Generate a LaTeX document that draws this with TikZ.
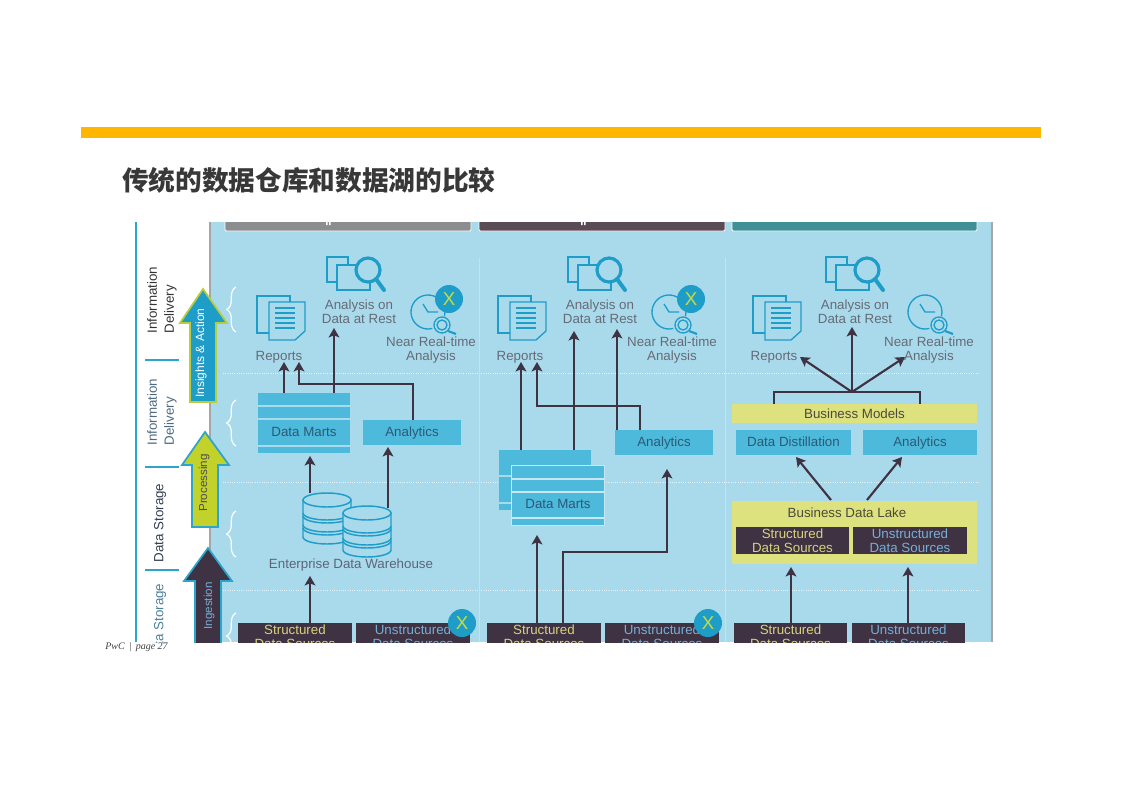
\documentclass[tikz,border=0pt]{standalone}
\usepackage{fontspec}
\setmainfont{Liberation Sans}
\newfontfamily\cjk{Noto Sans CJK SC}
\newfontfamily\footfont{Liberation Serif}
\usetikzlibrary{arrows.meta, decorations.pathreplacing}

\definecolor{panelblue}{HTML}{A9DAEC}
\definecolor{barblue}{HTML}{4DB9DB}
\definecolor{bartext}{HTML}{2B5A78}
\definecolor{iconblue}{HTML}{1F9DC9}
\definecolor{axisblue}{HTML}{2AA5CB}
\definecolor{darkplum}{HTML}{3F3243}
\definecolor{lakeyellow}{HTML}{DDE27E}
\definecolor{laketext}{HTML}{4C4A3C}
\definecolor{labelgrey}{HTML}{666B76}
\definecolor{softyellow}{HTML}{D9D37C}
\definecolor{softblue}{HTML}{74B0D8}
\definecolor{limegreen}{HTML}{C3D22B}
\definecolor{limeedge}{HTML}{B7CD3C}
\definecolor{crossgreen}{HTML}{C6DC3E}

\tikzset{
>={Stealth[length=7pt, width=8pt, inset=1.5pt]}, % the arrow heads
x=0.75pt, y=-0.75pt, % one unit is one pixel of the page
flow/.style={->, draw=darkplum, line width=1.6pt}, % the dark connectors
icon/.style={draw=iconblue, line width=1pt, fill=panelblue}, % outlines of the small icons
caption/.style={text=labelgrey, align=center, font=\fontsize{10}{10.5}\selectfont},
strip/.style={fill=barblue, inner sep=0pt, outer sep=0pt}, % the thin bars of a stack
bar/.style={strip, text=bartext, text height=1.5ex, text depth=0.4ex, font=\fontsize{10}{12}\selectfont},
lake/.style={fill=lakeyellow, inner sep=0pt, outer sep=0pt, text=laketext, font=\fontsize{10}{12}\selectfont},
source/.style={fill=darkplum, inner sep=0pt, outer sep=0pt, align=center, font=\fontsize{10}{10.5}\selectfont},
structured/.style={source, text=softyellow},
unstructured/.style={source, text=softblue},
header/.style={draw=white, line width=0.7pt, rounded corners=1pt},
badge/.style={circle, fill=iconblue, minimum size=21pt, inner sep=0pt, text=crossgreen, font=\fontsize{14}{14}\selectfont},
side/.style={rotate=90, align=left, font=\fontsize{10}{12.75}\selectfont},
bracket/.style={decorate, decoration={brace, amplitude=7pt, aspect=0.5}, draw=white, line width=0.9pt},
guide/.style={draw=white!70!panelblue, densely dotted, line width=0.7pt},
pics/reports/.style={code={
  \draw[icon] (0,0) rectangle (33,37);
  \draw[icon] (12,6) -- (48,6) -- (48,35) -- (38,44) -- (12,44) -- cycle;
  \foreach \ly in {12,17,22,27,32}
    \draw[icon] (18,\ly) -- (38,\ly);
}},
pics/lens/.style={code={
  \draw[icon] (0,0) rectangle (21,25);
  \draw[icon] (10,8) rectangle (43,33);
  \draw[icon, line width=2.4pt, fill=panelblue] (41,13) circle (12);
  \draw[draw=iconblue, line width=3pt, line cap=round] (49,22) -- (57,33);
}},
pics/timer/.style={code={
  \draw[icon, fill=none] (0,0) ++(75:17) arc[start angle=75, end angle=375, radius=17];
  \draw[icon, fill=none] (-5,-8) -- (0,0) -- (10,0);
  \draw[icon] (14,13) circle (8);
  \draw[icon] (14,13) circle (5);
  \draw[draw=iconblue, line width=1.6pt] (20,19) -- (28,22);
}},
pics/database/.style={code={
  \path[fill=panelblue] (-24,0) -- (-24,37) arc[start angle=180, end angle=0, x radius=24, y radius=7] -- (24,0) -- cycle;
  \draw[icon, fill=none, line width=1.1pt] (-24,0) -- (-24,37) arc[start angle=180, end angle=0, x radius=24, y radius=7] -- (24,0);
  \foreach \ly in {13,16,25,28}
    \draw[icon, fill=none, line width=1.1pt] (-24,\ly) arc[start angle=180, end angle=0, x radius=24, y radius=7];
  \draw[icon, line width=1.1pt] (0,0) ellipse [x radius=24, y radius=7];
}},
}

% a box given by its style, name, left, top, right, bottom and text
\newcommand{\boxnode}[7]{
  \node[#1, minimum width={(#5-#3)*0.75pt}, minimum height={(#6-#4)*0.75pt}] (#2) at ({(#3+#5)/2},{(#4+#6)/2}) {#7};
}

\begin{document}
\begin{tikzpicture}
  \useasboundingbox (0,0) rectangle (1122,793);

  % Page head
  \fill[fill={rgb,255:red,255;green,182;blue,0}] (81,127) rectangle (1041,138);
  \node[anchor=west, inner sep=0pt, text=black!78, font=\cjk\bfseries\fontsize{20}{20}\selectfont] (title) at (122,180) {传统的数据仓库和数据湖的比较};

  \begin{scope}
  \clip (130,222) rectangle (993,642);

  % Panel and left axis
  \fill[panelblue] (210,222) rectangle (993,642);
  \draw[gray!70, line width=1.4pt] (210,222) -- (210,642);
  \draw[gray!70, line width=1pt] (992,222) -- (992,642);
  \draw[axisblue, line width=1.6pt] (136,222) -- (136,642);
  \foreach \ty in {360,467,570}
    \draw[axisblue, line width=1.3pt] (145,\ty) -- (179,\ty);
  \draw[header, fill={rgb,255:red,140;green,141;blue,143}] (225,212) rectangle (471,231);
  \draw[header, fill={rgb,255:red,90;green,74;blue,85}] (479,212) rectangle (725,231);
  \draw[header, fill={rgb,255:red,63;green,143;blue,151}] (732,212) rectangle (977,231);
  \fill[white] (326,222) rectangle (327.5,225) (329,222) rectangle (330.5,225);
  \fill[white] (581,222) rectangle (582.5,225) (584,222) rectangle (585.5,225);

  % Guides
  \foreach \gy in {373,482,590}
    \draw[guide] (223,\gy) -- (978,\gy);
  \foreach \gx in {479,725}
    \draw[white!25!panelblue, line width=0.7pt] (\gx,258) -- (\gx,642);

  % Side labels
  \node[side, text=black!80] (delivA) at (162,300) {Information\\Delivery};
  \node[side, text={rgb,255:red,77;green,106;blue,128}] (delivB) at (162,412) {Information\\Delivery};
  \node[side, text={rgb,255:red,51;green,63;blue,79}] (storeA) at (160,523) {Data Storage};
  \node[side, text={rgb,255:red,77;green,127;blue,156}] (storeB) at (160,623) {Data Storage};

  % Stage arrows
  \draw[fill=iconblue, draw=limeedge, line width=1.3pt] (203,289) -- (227,323) -- (216,323) -- (216,402) -- (190,402) -- (190,323) -- (180,323) -- cycle;
  \node[rotate=90, text=white, font=\fontsize{9}{12}\selectfont] (insights) at (201,353) {Insights \& Action};
  \draw[fill=limegreen, draw=axisblue, line width=1.3pt] (205,432) -- (229,465) -- (218,465) -- (218,527) -- (192,527) -- (192,465) -- (182,465) -- cycle;
  \node[rotate=90, text=black!70, font=\fontsize{8.7}{12}\selectfont] (processing) at (204,483) {Processing};
  \draw[fill=darkplum, draw=axisblue, line width=1.3pt] (208,548) -- (232,581) -- (221,581) -- (221,660) -- (195,660) -- (195,581) -- (184,581) -- cycle;
  \node[rotate=90, text=softblue, font=\fontsize{8.7}{12}\selectfont] (ingestion) at (209,606) {Ingestion};

  % Braces
  \foreach \by/\ty in {332/287,446/400,557/511,659/613}
    \draw[bracket] (236,\by) -- (236,\ty);

  % Icons
  \foreach \cx/\ax/\tx in {0/0/0,241/241/241,496/499/497} {
    \pic at ({257+\cx},296) {reports};
    \pic at ({327+\ax},257) {lens};
    \pic at ({428+\tx},312) {timer};
  }

  % Captions
  \node[caption] (repA) at (279,357.5) {Reports};
  \node[caption] (restA) at (359,312) {Analysis on\\Data at Rest};
  \node[caption] (nearA) at (431,350.5) {Near Real-time\\Analysis};
  \node[caption] (repB) at (520,357.5) {Reports};
  \node[caption] (restB) at (600,312) {Analysis on\\Data at Rest};
  \node[caption] (nearB) at (672,350.5) {Near Real-time\\Analysis};
  \node[caption] (repC) at (774,357.5) {Reports};
  \node[caption] (restC) at (855,312) {Analysis on\\Data at Rest};
  \node[caption] (nearC) at (929,350.5) {Near Real-time\\Analysis};

  % First column
  \boxnode{strip}{martA}{258}{393}{350}{405}{}
  \boxnode{strip}{martAb}{258}{407}{350}{418}{}
  \boxnode{bar}{martAc}{258}{420}{350}{445}{Data Marts}
  \boxnode{strip}{martAd}{258}{447}{350}{453}{}
  \boxnode{bar}{anaA}{363}{420}{461}{445}{Analytics}
  \pic at (327,500) {database};
  \pic at (367,513) {database};
  \coordinate (dbA) at (310,493);
  \coordinate (dbB) at (388,508);
  \node[caption, text={rgb,255:red,93;green,100;blue,120}] (edw) at (351,565) {Enterprise Data Warehouse};
  \boxnode{structured}{srcA}{238}{623}{352}{651}{Structured\\Data Sources}
  \boxnode{unstructured}{usrcA}{356}{623}{470}{651}{Unstructured\\Data Sources}
  \node[badge] (xA) at (449,299) {X};
  \node[badge] (xsA) at (462,623) {X};

  % Second column
  \boxnode{strip}{martB}{499}{450}{591}{475}{}
  \boxnode{strip}{martBb}{499}{477}{591}{502}{}
  \boxnode{strip}{martBc}{499}{504}{591}{510}{}
  \fill[white!35!panelblue] (511,465) rectangle (605,526);
  \boxnode{strip}{martBd}{512}{466}{604}{478}{}
  \boxnode{strip}{martBe}{512}{480}{604}{491}{}
  \boxnode{bar}{martBf}{512}{493}{604}{517}{Data Marts}
  \boxnode{strip}{martBg}{512}{519}{604}{525}{}
  \boxnode{bar}{anaB}{615}{430}{713}{455}{Analytics}
  \boxnode{structured}{srcB}{487}{623}{601}{651}{Structured\\Data Sources}
  \boxnode{unstructured}{usrcB}{605}{623}{719}{651}{Unstructured\\Data Sources}
  \node[badge] (xB) at (691,299) {X};
  \node[badge] (xsB) at (708,623) {X};

  % Third column
  \boxnode{lake}{models}{732}{404}{977}{423}{Business Models}
  \boxnode{bar}{distill}{736}{430}{851}{455}{Data Distillation}
  \boxnode{bar}{anaC}{863}{430}{977}{455}{Analytics}
  \boxnode{lake}{datalake}{732}{501}{977}{564}{}
  \node[lake, fill=none] (lakename) at (847,513) {Business Data Lake};
  \boxnode{structured}{inS}{736}{527}{849}{554}{Structured\\Data Sources}
  \boxnode{unstructured}{inU}{853}{527}{967}{554}{Unstructured\\Data Sources}
  \boxnode{structured}{srcC}{734}{623}{847}{651}{Structured\\Data Sources}
  \boxnode{unstructured}{usrcC}{852}{623}{965}{651}{Unstructured\\Data Sources}

  % Ends of the connectors
  \coordinate (tipA) at (284,362);
  \coordinate (tipB) at (299,362);
  \coordinate (tipC) at (334,328);
  \coordinate (elbA) at (413,384);
  \coordinate (tipD) at (310,456);
  \coordinate (tipE) at (388,447);
  \coordinate (tipF) at (310,576);
  \coordinate (tipG) at (521,362);
  \coordinate (tipH) at (574,331);
  \coordinate (tipI) at (617,329);
  \coordinate (elbB) at (640,406);
  \coordinate (tipJ) at (537,362);
  \coordinate (tipK) at (537,535);
  \coordinate (elbC) at (563,552);
  \coordinate (tipL) at (667,469);
  \coordinate (hub) at (852,392);
  \coordinate (tipM) at (800,357);
  \coordinate (tipN) at (852,327);
  \coordinate (tipO) at (905,357);
  \coordinate (tipP) at (796,457);
  \coordinate (tipQ) at (902,457);
  \coordinate (tailP) at (831,500);
  \coordinate (tailQ) at (867,500);
  \coordinate (tipR) at (791,567);
  \coordinate (tipS) at (908,567);

  % Transitions
  \draw[flow] (martA.north -| tipA) -- (tipA);
  \draw[flow] (martA.north -| tipC) -- (tipC);
  \draw[flow] (anaA.north -| elbA) -- (elbA) -| (tipB);
  \draw[flow] (dbA) -- (tipD);
  \draw[flow] (dbB) -- (tipE);
  \draw[flow] (srcA.north -| tipF) -- (tipF);

  \draw[flow] (martB.north -| tipG) -- (tipG);
  \draw[flow] (martB.north -| tipH) -- (tipH);
  \draw[flow] (anaB.north -| tipI) -- (tipI);
  \draw[flow] (anaB.north -| elbB) -- (elbB) -| (tipJ);
  \draw[flow] (srcB.north -| tipK) -- (tipK);
  \draw[flow] (srcB.north -| elbC) -- (elbC) -| (tipL);

  \draw[flow] (hub) -- (tipM);
  \draw[flow] (hub) -- (tipN);
  \draw[flow] (hub) -- (tipO);
  \draw[flow, -] (models.north -| repC) |- (hub) -| (models.north -| anaC);
  \draw[flow] (tailP) -- (tipP);
  \draw[flow] (tailQ) -- (tipQ);
  \draw[flow] (srcC.north -| tipR) -- (tipR);
  \draw[flow] (usrcC.north -| tipS) -- (tipS);
  \end{scope}

  % Page foot
  \node[anchor=west, inner sep=0pt, text=black!75, font=\footfont\itshape\fontsize{7.5}{8}\selectfont] (pagefoot) at (105,647) {PwC \,|\, page 27};
\end{tikzpicture}
\end{document}
